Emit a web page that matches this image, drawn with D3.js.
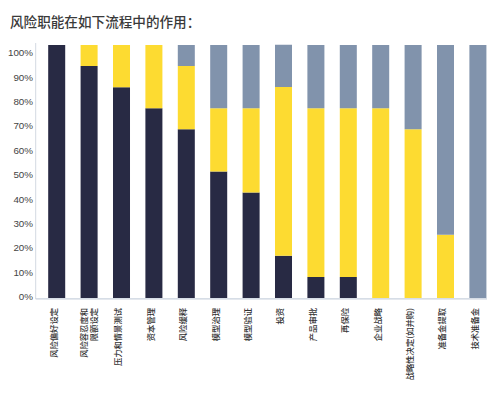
<!DOCTYPE html>
<html>
<head>
<meta charset="utf-8">
<script src="https://cdn.jsdelivr.net/npm/d3@7"></script>
<style>
  body { margin: 0; background: #fff; }
  svg { display: block; }
</style>
</head>
<body>
<svg id="chart" width="500" height="395"></svg>
<script>

//////////////////////
// Data
//////////////////////

var categories = [
    ["风险偏好设定"],
    ["风险容忍度和", "限额设定"],
    ["压力和情景测试"],
    ["资本管理"],
    ["风险缓释"],
    ["模型治理"],
    ["模型验证"],
    ["投资"],
    ["产品审批"],
    ["再保险"],
    ["企业战略"],
    ["战略性决定(如并购)"],
    ["准备金提取"],
    ["技术准备金"]
];

// share of answers, % (bottom to top)
var darkValues   = [100, 91.7, 83.3, 75, 66.7, 50, 41.7, 16.7, 8.3, 8.3, 0, 0, 0, 0];
var yellowValues = [0, 8.3, 16.7, 25, 25, 25, 33.3, 66.7, 66.7, 66.7, 75, 66.7, 25, 0];
var greyValues   = [0, 0, 0, 0, 8.3, 25, 25, 16.7, 25, 25, 25, 33.3, 75, 100];

var tickValues = [0, 10, 20, 30, 40, 50, 60, 70, 80, 90, 100];

var seriesKeys = ["dark", "yellow", "grey"];
var seriesColors = { dark: "#282a44", yellow: "#fddb31", grey: "#8193ac" };

//////////////////////
// Setup
//////////////////////

var svg = d3.select("#chart");

var rows = categories.map(function (c, i) {
    return { id: i, label: c, dark: darkValues[i], yellow: yellowValues[i], grey: greyValues[i] };
});

var x = d3.scaleBand()
    .domain(rows.map(function (d) { return d.id; }))
    .range([40.5, 494.1])
    .paddingInner(0.475)
    .paddingOuter(0.2375);

var y = d3.scaleLinear().domain([0, 100]).range([298, 45]);

// the original's tick labels sit slightly compressed against the bars
var yTicks = d3.scaleLinear().domain([0, 100]).range([296.5, 52.5]);

var stack = d3.stack().keys(seriesKeys);
var layers = stack(rows);

//////////////////////
// Title
//////////////////////

svg.append("text")
    .attr("x", 10)
    .attr("y", 27)
    .attr("font-family", "'Noto Sans CJK SC', sans-serif")
    .attr("font-size", 13.6)
    .attr("font-weight", 500)
    .attr("fill", "#3a3a3a")
    .text("风险职能在如下流程中的作用：");

//////////////////////
// Axes
//////////////////////

var yAxis = svg.append("g")
    .attr("transform", "translate(33,0)")
    .call(d3.axisLeft(yTicks)
        .tickValues(tickValues)
        .tickSize(0)
        .tickPadding(0)
        .tickFormat(function (d) { return d + "%"; }));

yAxis.select(".domain").remove();
yAxis.selectAll("text")
    .attr("font-family", "'Liberation Sans', Arial, sans-serif")
    .attr("font-size", 9.8)
    .attr("fill", "#444");

svg.append("line")
    .attr("x1", 35.7).attr("x2", 35.7)
    .attr("y1", 43).attr("y2", 299)
    .attr("stroke", "#d3d9e2")
    .attr("stroke-width", 1);

//////////////////////
// Bars
//////////////////////

svg.append("g")
    .selectAll("g")
    .data(layers)
    .enter()
    .append("g")
        .attr("fill", function (d) { return seriesColors[d.key]; })
        .selectAll("rect")
        .data(function (d) { return d; })
        .enter()
        .append("rect")
            .attr("x", function (d) { return x(d.data.id); })
            .attr("y", function (d) { return y(d[1]); })
            .attr("width", x.bandwidth())
            .attr("height", function (d) { return y(d[0]) - y(d[1]); });

svg.append("line")
    .attr("x1", 35.7).attr("x2", 487)
    .attr("y1", 298.8).attr("y2", 298.8)
    .attr("stroke", "#c9d2de")
    .attr("stroke-width", 1.2);

//////////////////////
// Category labels (vertical)
//////////////////////

var labels = svg.append("g")
    .selectAll("text")
    .data(rows)
    .enter()
    .append("text")
        .attr("font-family", "'Noto Sans CJK SC', sans-serif")
        .attr("font-size", 8.3)
        .attr("font-weight", 500)
        .attr("fill", "#333")
        .attr("text-anchor", "end")
        .attr("transform", function (d) {
            var cx = x(d.id) + x.bandwidth() / 2;
            return "translate(" + cx + ",308) rotate(-90)";
        });

labels.each(function (d) {
    var el = d3.select(this);
    var n = d.label.length;
    d.label.forEach(function (line, i) {
        var offset = n === 1 ? -3 : (i - (n - 1) / 2) * 10;
        el.append("tspan")
            .attr("x", 0)
            .attr("y", offset)
            .attr("dy", "0.35em")
            .text(line);
    });
});

</script>
</body>
</html>
